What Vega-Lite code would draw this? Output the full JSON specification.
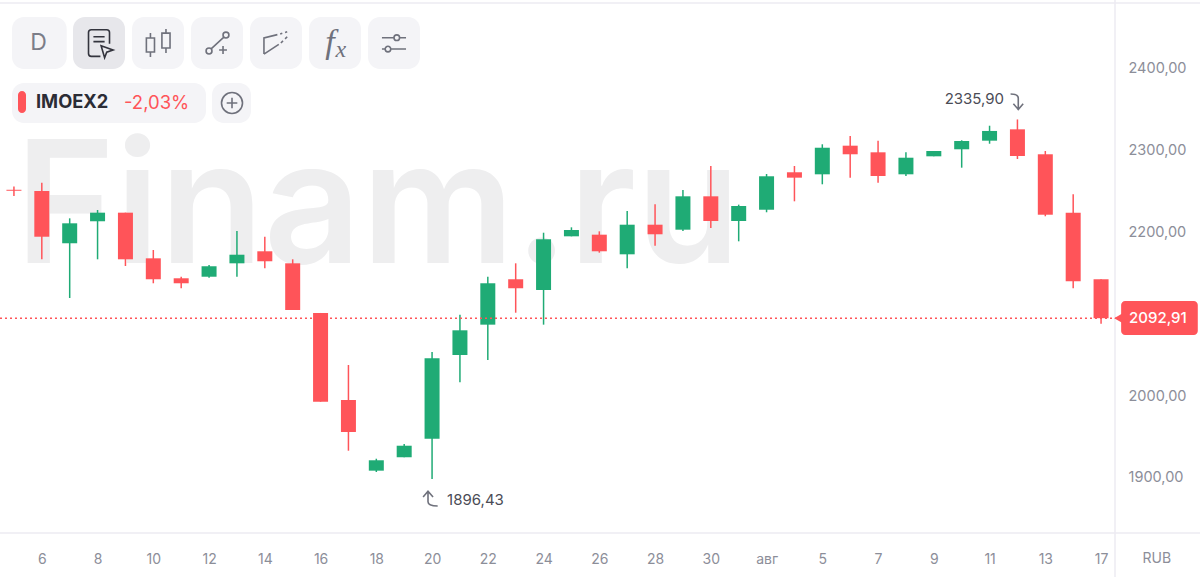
{
  "$schema": "https://vega.github.io/schema/vega-lite/v6.json",
  "description": "IMOEX2 daily candles with the terminal toolbar around them",
  "width": 1115,
  "height": 533,
  "autosize": "none",
  "padding": {"left": 0, "top": 0, "right": 85, "bottom": 44},
  "background": "#ffffff",
  "view": {"stroke": null},
  "config": {
    "text": {"font": "Inter"},
    "axis": {"title": null, "domain": false, "ticks": false, "grid": false, "labelFont": "Inter", "labelColor": "#8c8e99", "labelOverlap": false, "labelBound": false, "labelFlush": false}
  },
  "resolve": {"scale": {"color": "independent"}},
  "datasets": {
    "candles": [
      {"session": 0, "date": "07-05", "open": 2249.9, "close": 2248.7, "high": 2253.8, "low": 2242.3},
      {"session": 1, "date": "07-06", "open": 2248.4, "close": 2192.5, "high": 2258.6, "low": 2164.9},
      {"session": 2, "date": "07-07", "open": 2184.5, "close": 2208.9, "high": 2215.0, "low": 2117.6},
      {"session": 3, "date": "07-08", "open": 2211.4, "close": 2221.9, "high": 2225.2, "low": 2164.9},
      {"session": 4, "date": "07-09", "open": 2221.9, "close": 2164.9, "high": 2221.9, "low": 2156.7},
      {"session": 5, "date": "07-10", "open": 2166.1, "close": 2140.5, "high": 2176.3, "low": 2135.6},
      {"session": 6, "date": "07-11", "open": 2141.7, "close": 2135.6, "high": 2143.6, "low": 2129.5},
      {"session": 7, "date": "07-12", "open": 2143.6, "close": 2156.4, "high": 2158.0, "low": 2142.4},
      {"session": 8, "date": "07-13", "open": 2160.0, "close": 2170.5, "high": 2199.5, "low": 2143.6},
      {"session": 9, "date": "07-14", "open": 2174.7, "close": 2162.5, "high": 2192.5, "low": 2153.9},
      {"session": 10, "date": "07-15", "open": 2160.0, "close": 2102.9, "high": 2164.9, "low": 2102.9},
      {"session": 11, "date": "07-16", "open": 2099.3, "close": 1990.8, "high": 2099.3, "low": 1990.8},
      {"session": 12, "date": "07-17", "open": 1992.9, "close": 1953.8, "high": 2035.7, "low": 1930.9},
      {"session": 13, "date": "07-18", "open": 1906.5, "close": 1919.2, "high": 1921.1, "low": 1904.9},
      {"session": 14, "date": "07-19", "open": 1922.9, "close": 1937.0, "high": 1939.1, "low": 1922.9},
      {"session": 15, "date": "07-20", "open": 1945.6, "close": 2043.9, "high": 2051.6, "low": 1896.43},
      {"session": 16, "date": "07-21", "open": 2047.9, "close": 2078.1, "high": 2097.2, "low": 2014.5},
      {"session": 17, "date": "07-22", "open": 2085.0, "close": 2135.6, "high": 2143.6, "low": 2041.8},
      {"session": 18, "date": "07-23", "open": 2140.5, "close": 2129.5, "high": 2160.0, "low": 2099.6},
      {"session": 19, "date": "07-24", "open": 2127.4, "close": 2189.4, "high": 2197.4, "low": 2085.0},
      {"session": 20, "date": "07-25", "open": 2193.0, "close": 2200.7, "high": 2204.0, "low": 2193.0},
      {"session": 21, "date": "07-26", "open": 2195.0, "close": 2174.7, "high": 2199.1, "low": 2173.0},
      {"session": 22, "date": "07-27", "open": 2171.0, "close": 2207.2, "high": 2224.0, "low": 2153.9},
      {"session": 23, "date": "07-28", "open": 2207.2, "close": 2195.5, "high": 2232.1, "low": 2181.5},
      {"session": 24, "date": "07-29", "open": 2201.1, "close": 2241.9, "high": 2249.6, "low": 2199.5},
      {"session": 25, "date": "07-30", "open": 2241.9, "close": 2211.7, "high": 2279.0, "low": 2203.2},
      {"session": 26, "date": "07-31", "open": 2211.7, "close": 2230.1, "high": 2231.7, "low": 2186.9},
      {"session": 27, "date": "08-01", "open": 2225.5, "close": 2266.4, "high": 2269.2, "low": 2222.4},
      {"session": 28, "date": "08-02", "open": 2271.3, "close": 2264.7, "high": 2279.0, "low": 2235.8},
      {"session": 29, "date": "08-05", "open": 2268.8, "close": 2301.3, "high": 2305.5, "low": 2256.6},
      {"session": 30, "date": "08-06", "open": 2303.8, "close": 2293.3, "high": 2315.6, "low": 2264.7},
      {"session": 31, "date": "08-07", "open": 2295.7, "close": 2266.7, "high": 2309.9, "low": 2258.6},
      {"session": 32, "date": "08-08", "open": 2268.8, "close": 2289.1, "high": 2295.7, "low": 2266.7},
      {"session": 33, "date": "08-09", "open": 2290.8, "close": 2297.3, "high": 2297.3, "low": 2290.8},
      {"session": 34, "date": "08-10", "open": 2299.4, "close": 2309.5, "high": 2310.4, "low": 2276.9},
      {"session": 35, "date": "08-11", "open": 2309.9, "close": 2321.8, "high": 2328.2, "low": 2306.2},
      {"session": 36, "date": "08-12", "open": 2323.8, "close": 2291.2, "high": 2335.9, "low": 2287.5},
      {"session": 37, "date": "08-13", "open": 2293.3, "close": 2219.4, "high": 2297.3, "low": 2217.5},
      {"session": 38, "date": "08-16", "open": 2221.9, "close": 2138.0, "high": 2244.4, "low": 2129.5},
      {"session": 39, "date": "08-17", "open": 2140.5, "close": 2092.91, "high": 2140.5, "low": 2086.2}
    ],
    "panels": [
      {"session": -0.07, "session2": 1.893, "price": 2461.1, "price2": 2397.6, "role": "button"},
      {"session": 2.119, "session2": 3.984, "price": 2461.1, "price2": 2397.6, "role": "active"},
      {"session": 4.235, "session2": 6.101, "price": 2461.1, "price2": 2397.6, "role": "button"},
      {"session": 6.352, "session2": 8.218, "price": 2461.1, "price2": 2397.6, "role": "button"},
      {"session": 8.469, "session2": 10.334, "price": 2461.1, "price2": 2397.6, "role": "button"},
      {"session": 10.585, "session2": 12.451, "price": 2461.1, "price2": 2397.6, "role": "button"},
      {"session": 12.702, "session2": 14.567, "price": 2461.1, "price2": 2397.6, "role": "button"},
      {"session": -0.07, "session2": 6.89, "price": 2380.4, "price2": 2331.5, "role": "button"},
      {"session": 7.105, "session2": 8.504, "price": 2380.4, "price2": 2331.5, "role": "button"}
    ],
    "flags": [
      {"session": 0.146, "session2": 0.433, "price": 2370.7, "price2": 2343.8},
      {"session": 39.72, "session2": 42.47, "price": 2113.9, "price2": 2072.4}
    ],
    "icons": [
      {"session": 3.052, "price": 2429.3, "icon": "order"},
      {"session": 5.168, "price": 2429.3, "icon": "candles"},
      {"session": 7.285, "price": 2429.3, "icon": "line"},
      {"session": 9.401, "price": 2429.3, "icon": "channel"},
      {"session": 13.634, "price": 2429.3, "icon": "sliders"},
      {"session": 7.823, "price": 2356, "icon": "add"},
      {"session": 15.0, "price": 1871.9, "icon": "low"},
      {"session": 35.98, "price": 2358.4, "icon": "high"}
    ],
    "labels": [
      {"session": 0.88, "price": 2429.3, "label": "D", "role": "button"},
      {"session": 41.0, "price": 1798.5, "label": "RUB", "role": "unit"},
      {"session": 41.04, "price": 2092.91, "label": "2092,91", "role": "last"},
      {"session": 3.948, "price": 2356, "label": "-2,03%", "role": "change"},
      {"session": 15.54, "price": 1870.7, "label": "1896,43", "role": "extreme"},
      {"session": 35.52, "price": 2360.9, "label": "2335,90", "role": "extremeRight"},
      {"session": 0.791, "price": 2356, "label": "IMOEX2", "role": "ticker"},
      {"session": 11.34, "price": 2429.3, "label": "f", "role": "formula"},
      {"session": 11.73, "price": 2420.8, "label": "x", "role": "formulaSub"}
    ],
    "edges": [
      {"session": -0.5, "session2": 42.55, "price": 2478.2},
      {"session": -0.5, "session2": 42.55, "price": 1830.3}
    ],
    "divider": [{"session": 39.5, "price": 2481.9, "price2": 1776}],
    "lastPrice": [{"session": -0.5, "session2": 39.7, "price": 2092.91}],
    "pointer": [{"session": 39.66, "price": 2092.91}],
    "watermark": [{"session": 0.05, "price": 2160.4, "label": "Finam.ru"}]
  },
  "layer": [
    {
      "data": {"name": "watermark"},
      "mark": {"type": "text", "align": "left", "baseline": "alphabetic", "fontSize": 170, "fontWeight": 600, "color": "#eeeeef"},
      "encoding": {
        "x": {"field": "session", "type": "quantitative", "scale": {"domain": [-0.5, 39.5], "nice": false, "zero": false, "padding": 0}, "axis": {"values": [1, 3, 5, 7, 9, 11, 13, 15, 17, 19, 21, 23, 25, 27, 29, 31, 33, 35, 37, 39], "labelExpr": "['','6','','8','','10','','12','','14','','16','','18','','20','','22','','24','','26','','28','','30','','авг','','5','','7','','9','','11','','13','','17'][datum.value]", "labelFontSize": 14, "labelPadding": 19}},
        "y": {"field": "price", "type": "quantitative", "scale": {"domain": [1830.3, 2481.9], "nice": false, "zero": false, "padding": 0}, "axis": {"orient": "right", "values": [1900, 2000, 2200, 2300, 2400], "labelExpr": "replace(format(datum.value, '.2f'), '.', ',')", "labelFontSize": 14.5, "labelPadding": 13, "labelOffset": 2}},
        "text": {"field": "label"}
      }
    },
    {
      "data": {"name": "edges"},
      "mark": {"type": "rule", "color": "#ecebf2", "strokeWidth": 1.5},
      "encoding": {
        "x": {"field": "session", "type": "quantitative"},
        "x2": {"field": "session2"},
        "y": {"field": "price", "type": "quantitative"}
      }
    },
    {
      "data": {"name": "divider"},
      "mark": {"type": "rule", "color": "#ecebf2", "strokeWidth": 1.5},
      "encoding": {
        "x": {"field": "session", "type": "quantitative"},
        "y": {"field": "price", "type": "quantitative"},
        "y2": {"field": "price2"}
      }
    },
    {
      "data": {"name": "panels"},
      "mark": {"type": "rect", "cornerRadius": 12},
      "encoding": {
        "x": {"field": "session", "type": "quantitative"},
        "x2": {"field": "session2"},
        "y": {"field": "price", "type": "quantitative"},
        "y2": {"field": "price2"},
        "color": {"field": "role", "type": "nominal", "scale": {"domain": ["button", "active"], "range": ["#f4f4f7", "#e7e7eb"]}, "legend": null}
      }
    },
    {
      "data": {"name": "flags"},
      "mark": {"type": "rect", "cornerRadius": 4, "color": "#ff5459"},
      "encoding": {
        "x": {"field": "session", "type": "quantitative"},
        "x2": {"field": "session2"},
        "y": {"field": "price", "type": "quantitative"},
        "y2": {"field": "price2"}
      }
    },
    {
      "data": {"name": "pointer"},
      "mark": {"type": "point", "shape": "triangle-left", "filled": true, "size": 150, "opacity": 1, "color": "#ff5459"},
      "encoding": {
        "x": {"field": "session", "type": "quantitative"},
        "y": {"field": "price", "type": "quantitative"}
      }
    },
    {
      "data": {"name": "candles"},
      "mark": {"type": "rule", "strokeWidth": 1.5},
      "encoding": {
        "x": {"field": "session", "type": "quantitative"},
        "y": {"field": "low", "type": "quantitative"},
        "y2": {"field": "high"},
        "color": {"condition": {"test": "datum.close < datum.open", "value": "#ff5459"}, "value": "#1fab75"}
      }
    },
    {
      "data": {"name": "candles"},
      "mark": {"type": "bar", "size": 15},
      "encoding": {
        "x": {"field": "session", "type": "quantitative"},
        "y": {"field": "open", "type": "quantitative"},
        "y2": {"field": "close"},
        "color": {"condition": {"test": "datum.close < datum.open", "value": "#ff5459"}, "value": "#1fab75"}
      }
    },
    {
      "data": {"name": "lastPrice"},
      "mark": {"type": "rule", "color": "#ff5459", "strokeWidth": 1.5, "strokeDash": [2, 3]},
      "encoding": {
        "x": {"field": "session", "type": "quantitative"},
        "x2": {"field": "session2"},
        "y": {"field": "price", "type": "quantitative"}
      }
    },
    {
      "data": {"name": "icons"},
      "mark": {"type": "point", "filled": false, "size": 784, "opacity": 1, "strokeWidth": 1.6},
      "encoding": {
        "x": {"field": "session", "type": "quantitative"},
        "y": {"field": "price", "type": "quantitative"},
        "shape": {"field": "icon", "type": "nominal", "legend": null, "scale": {
          "domain": ["order", "candles", "line", "channel", "sliders", "add", "low", "high"],
          "range": [
            "M0.1,0.95 H-0.55 Q-0.75,0.95 -0.75,0.75 V-0.75 Q-0.75,-0.95 -0.55,-0.95 H0.55 Q0.75,-0.95 0.75,-0.75 V0.05 M-0.4,-0.45 H0.4 M-0.4,-0.1 H0.4 M0.15,0.2 L1,0.5 L0.55,0.65 L0.4,1.05 Z",
            "M-0.83,-0.36 H-0.25 V0.64 H-0.83 Z M-0.54,-0.71 V-0.36 M-0.54,0.64 V1 M0.28,-0.71 H0.86 V0.36 H0.28 Z M0.57,-1 V-0.71 M0.57,0.36 V0.71",
            "M-0.78,0.57 A0.21,0.21 0 1 1 -0.36,0.57 A0.21,0.21 0 1 1 -0.78,0.57 Z M-0.42,0.42 L0.49,-0.42 M0.43,-0.57 A0.21,0.21 0 1 1 0.85,-0.57 A0.21,0.21 0 1 1 0.43,-0.57 Z M0.15,0.5 H0.71 M0.43,0.22 V0.78",
            "M-0.86,0.79 V-0.36 L0.1,-0.6 M-0.86,0.79 L0.2,0.1 M0.3,-0.65 L0.45,-0.7 M0.65,-0.75 L0.8,-0.8 M0.35,0 L0.5,-0.15 M0.65,-0.3 L0.8,-0.45",
            "M-0.86,-0.38 H0 M0.4,-0.38 H0.86 M0,-0.38 A0.2,0.2 0 1 1 0.4,-0.38 A0.2,0.2 0 1 1 0,-0.38 Z M-0.86,0.43 H-0.63 M-0.23,0.43 H0.86 M-0.63,0.43 A0.2,0.2 0 1 1 -0.23,0.43 A0.2,0.2 0 1 1 -0.63,0.43 Z",
            "M-0.75,0 A0.75,0.75 0 1 1 0.75,0 A0.75,0.75 0 1 1 -0.75,0 Z M-0.38,0 H0.38 M0,-0.38 V0.38",
            "M-0.64,-0.14 L-0.29,-0.55 L0.07,-0.14 M-0.29,-0.55 V0.2 Q-0.29,0.5 0.4,0.5",
            "M-0.45,-0.5 Q0.1,-0.5 0.1,-0.2 V0.55 M-0.25,0.2 L0.1,0.6 L0.45,0.2"
          ]
        }},
        "color": {"field": "icon", "type": "nominal", "legend": null, "scale": {
          "domain": ["order", "candles", "line", "channel", "sliders", "add", "low", "high"],
          "range": ["#33343d", "#6f717c", "#6f717c", "#6f717c", "#6f717c", "#6f717c", "#6f717c", "#6f717c"]
        }}
      }
    },
    {
      "data": {"name": "labels"},
      "transform": [{"filter": "datum.role === 'change'"}],
      "mark": {"type": "text", "align": "left", "baseline": "middle", "fontSize": 18.5, "color": "#ff5459"},
      "encoding": {
        "x": {"field": "session", "type": "quantitative"},
        "y": {"field": "price", "type": "quantitative"},
        "text": {"field": "label"}
      }
    },
    {
      "data": {"name": "labels"},
      "transform": [{"filter": "datum.role === 'extreme'"}],
      "mark": {"type": "text", "align": "left", "baseline": "middle", "fontSize": 15, "color": "#4b4c56"},
      "encoding": {
        "x": {"field": "session", "type": "quantitative"},
        "y": {"field": "price", "type": "quantitative"},
        "text": {"field": "label"}
      }
    },
    {
      "data": {"name": "labels"},
      "transform": [{"filter": "datum.role === 'extremeRight'"}],
      "mark": {"type": "text", "align": "right", "baseline": "middle", "fontSize": 15, "color": "#4b4c56"},
      "encoding": {
        "x": {"field": "session", "type": "quantitative"},
        "y": {"field": "price", "type": "quantitative"},
        "text": {"field": "label"}
      }
    },
    {
      "data": {"name": "labels"},
      "transform": [{"filter": "datum.role === 'ticker'"}],
      "mark": {"type": "text", "align": "left", "baseline": "middle", "fontSize": 18.3, "fontWeight": 700, "color": "#2b2c35"},
      "encoding": {
        "x": {"field": "session", "type": "quantitative"},
        "y": {"field": "price", "type": "quantitative"},
        "text": {"field": "label"}
      }
    },
    {
      "data": {"name": "labels"},
      "transform": [{"filter": "datum.role === 'unit'"}],
      "mark": {"type": "text", "align": "center", "baseline": "middle", "fontSize": 14, "color": "#8c8e99"},
      "encoding": {
        "x": {"field": "session", "type": "quantitative"},
        "y": {"field": "price", "type": "quantitative"},
        "text": {"field": "label"}
      }
    },
    {
      "data": {"name": "labels"},
      "transform": [{"filter": "datum.role === 'last'"}],
      "mark": {"type": "text", "align": "center", "baseline": "middle", "fontSize": 15, "fontWeight": 500, "color": "#ffffff"},
      "encoding": {
        "x": {"field": "session", "type": "quantitative"},
        "y": {"field": "price", "type": "quantitative"},
        "text": {"field": "label"}
      }
    },
    {
      "data": {"name": "labels"},
      "transform": [{"filter": "datum.role === 'button'"}],
      "mark": {"type": "text", "align": "center", "baseline": "middle", "fontSize": 23, "color": "#7b7d88"},
      "encoding": {
        "x": {"field": "session", "type": "quantitative"},
        "y": {"field": "price", "type": "quantitative"},
        "text": {"field": "label"}
      }
    },
    {
      "data": {"name": "labels"},
      "transform": [{"filter": "datum.role === 'formula'"}],
      "mark": {"type": "text", "align": "center", "baseline": "middle", "fontSize": 34, "font": "Liberation Serif", "fontStyle": "italic", "color": "#6f717c"},
      "encoding": {
        "x": {"field": "session", "type": "quantitative"},
        "y": {"field": "price", "type": "quantitative"},
        "text": {"field": "label"}
      }
    },
    {
      "data": {"name": "labels"},
      "transform": [{"filter": "datum.role === 'formulaSub'"}],
      "mark": {"type": "text", "align": "center", "baseline": "middle", "fontSize": 24, "font": "Liberation Serif", "fontStyle": "italic", "color": "#6f717c"},
      "encoding": {
        "x": {"field": "session", "type": "quantitative"},
        "y": {"field": "price", "type": "quantitative"},
        "text": {"field": "label"}
      }
    }
  ]
}
